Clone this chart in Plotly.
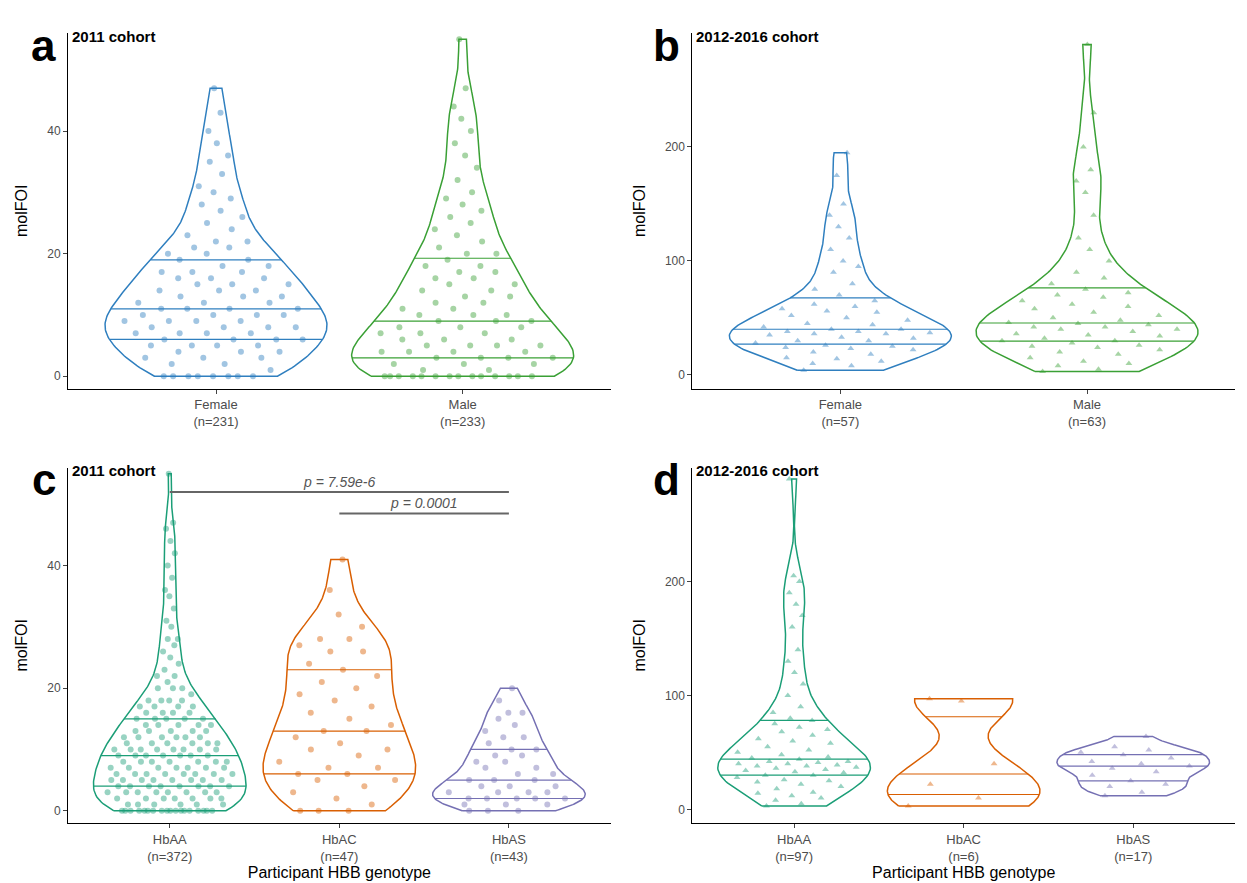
import numpy as np
import plotly.graph_objects as go
from plotly.subplots import make_subplots

# panel a / c (2011 cohort), panel b / d (2012-2016 cohort)
a_female = [0]*8 + [1,2,2,3,3,3,4,4,4,5,5,5,5,6,6,6,6,7,7,7,7,8,8,8,8,9,9,9,9,10,10,10,10,11,11,11,11,12,12,12,13,13,13,14,14,14,15,15,15,16,16,16,17,17,17,18,18,19,19,20,20,21,21,22,22,23,24,25,26,27,28,29,30,31,33,35,36,38,40,43,47]
a_male = [0]*14 + [1,1,2,2,2,3,3,3,3,4,4,4,4,5,5,5,5,6,6,6,7,7,7,8,8,8,9,9,9,10,10,10,11,11,12,12,13,13,14,14,15,15,16,16,17,17,18,18,19,20,20,21,22,23,24,25,26,27,28,29,30,32,34,36,38,40,42,44,47,55]
b_female = [4,8,10,12,14,15,18,20,22,23,24,25,26,28,30,30,32,33,35,36,36,37,38,38,40,40,42,44,45,48,50,52,55,56,58,60,62,65,70,75,80,90,95,100,110,120,130,140,150,175,195]
b_male = [3,5,8,10,12,15,18,20,22,24,25,26,28,30,30,32,34,35,36,38,40,40,42,42,44,45,46,48,50,52,55,58,60,62,65,68,70,72,75,80,85,90,100,110,120,140,160,170,180,200,230,290]
c_hbaa = [0]*18 + [1]*6 + [2]*7 + [3]*8 + [4]*8 + [5]*8 + [6]*8 + [7]*7 + [8]*7 + [9]*7 + [10]*8 + [11]*6 + [12]*6 + [13]*5 + [14]*5 + [15]*5 + [16]*4 + [17]*4 + [18]*4 + [19,20,20,20,21,22,22,23,24,25,26,27,28,28,30,31,33,35,36,38,40,42,44,46,47,55]
c_hbac = [0,0,0,1,2,3,4,5,5,6,6,7,7,8,9,10,10,11,12,13,13,14,15,16,17,18,19,20,21,22,23,24,26,26,27,28,28,30,32,36,41]
c_hbas = [0,0,0,1,1,1,2,2,2,2,2,3,3,3,3,4,4,4,5,5,5,6,6,7,7,8,8,9,9,10,10,11,12,12,13,14,15,16,16,18,20]
d_hbaa = [3,5,8,10,12,14,15,18,20,22,24,25,26,28,30,30,32,33,34,35,36,37,38,38,39,40,40,41,42,42,44,45,46,48,50,52,55,58,60,62,65,68,70,72,75,78,80,85,90,100,110,120,130,140,160,170,180,190,200,205,290]
d_hbac = [3,10,22,40,95,97]
d_hbas = [12,15,20,22,25,30,33,36,38,40,42,45,48,50,52,55,64]

COL = dict(blue="#2f7fbf", green="#3aa035", teal="#1b9e77", orange="#d95f02", purple="#7570b3")

panels = [
    (1, 1, [("Female<br>(n=231)", a_female, COL["blue"]), ("Male<br>(n=233)", a_male, COL["green"])], "circle"),
    (1, 2, [("Female<br>(n=57)", b_female, COL["blue"]), ("Male<br>(n=63)", b_male, COL["green"])], "triangle-up"),
    (2, 1, [("HbAA<br>(n=372)", c_hbaa, COL["teal"]), ("HbAC<br>(n=47)", c_hbac, COL["orange"]), ("HbAS<br>(n=43)", c_hbas, COL["purple"])], "circle"),
    (2, 2, [("HbAA<br>(n=97)", d_hbaa, COL["teal"]), ("HbAC<br>(n=6)", d_hbac, COL["orange"]), ("HbAS<br>(n=17)", d_hbas, COL["purple"])], "triangle-up"),
]

fig = make_subplots(rows=2, cols=2, horizontal_spacing=0.07, vertical_spacing=0.1)


def kde(vals, grid):
    v = np.asarray(vals, float)
    bw = 0.7 * v.std() * len(v) ** -0.2
    d = np.exp(-0.5 * ((grid[:, None] - v[None, :]) / bw) ** 2).sum(1)
    return d / d.max()


for row, col, groups, sym in panels:
    for i, (lab, vals, c) in enumerate(groups):
        x0 = i + 1
        v = np.asarray(vals, float)
        grid = np.linspace(v.min(), v.max(), 200)
        w = kde(v, grid) * 0.45
        fig.add_trace(go.Scatter(x=np.concatenate([x0 - w, (x0 + w)[::-1], [x0 - w[0]]]),
                                 y=np.concatenate([grid, grid[::-1], [grid[0]]]),
                                 mode="lines", line=dict(color=c, width=1.5), hoverinfo="skip"),
                      row=row, col=col)
        for q in np.percentile(v, [25, 50, 75]):
            hw = np.interp(q, grid, w)
            fig.add_trace(go.Scatter(x=[x0 - hw, x0 + hw], y=[q, q], mode="lines",
                                     line=dict(color=c, width=1.2), hoverinfo="skip"), row=row, col=col)
        vs = np.sort(v)
        ws = np.interp(vs, grid, w)
        frac = (np.arange(len(vs)) * 0.618034) % 1
        xs = x0 + (frac * 2 - 1) * np.maximum(ws, 0.04) * 0.85
        fig.add_trace(go.Scatter(x=xs, y=vs, mode="markers",
                                 marker=dict(symbol=sym, size=6, color=c, opacity=0.45, line=dict(width=0))),
                      row=row, col=col)

yr = {1: [-2, 56], 2: [-12, 300]}
for row, col, groups, sym in panels:
    n = len(groups)
    fig.update_xaxes(range=[0.4, n + 0.6], tickvals=list(range(1, n + 1)),
                     ticktext=[g[0] for g in groups], showline=True, linecolor="black",
                     ticks="outside", ticklen=4, showgrid=False, zeroline=False,
                     tickfont=dict(size=13, color="#4d4d4d"), row=row, col=col)
    big = col == 2
    fig.update_yaxes(range=yr[2 if big else 1], tickvals=[0, 100, 200] if big else [0, 20, 40],
                     showline=True, linecolor="black", ticks="outside", ticklen=4, showgrid=False,
                     zeroline=False, tickfont=dict(size=12, color="#4d4d4d"),
                     title=dict(text="molFOI", font=dict(size=16, color="black")), row=row, col=col)
fig.update_xaxes(title=dict(text="Participant HBB genotype", font=dict(size=16, color="black"), standoff=4), row=2, col=1)
fig.update_xaxes(title=dict(text="Participant HBB genotype", font=dict(size=16, color="black"), standoff=4), row=2, col=2)

# significance bars in panel c
fig.add_trace(go.Scatter(x=[1, 3], y=[52, 52], mode="lines", line=dict(color="#666", width=2)), row=2, col=1)
fig.add_trace(go.Scatter(x=[2, 3], y=[48.5, 48.5], mode="lines", line=dict(color="#666", width=2)), row=2, col=1)
fig.add_annotation(x=2, y=52, yshift=10, text="<i>p = 7.59e-6</i>", showarrow=False,
                   font=dict(size=14, color="#555"), xref="x3", yref="y3")
fig.add_annotation(x=2.5, y=48.5, yshift=10, text="<i>p = 0.0001</i>", showarrow=False,
                   font=dict(size=14, color="#555"), xref="x3", yref="y3")

for letter, xr, yrf, title in [("a", "x domain", "y domain", "2011 cohort"),
                               ("b", "x2 domain", "y2 domain", "2012-2016 cohort"),
                               ("c", "x3 domain", "y3 domain", "2011 cohort"),
                               ("d", "x4 domain", "y4 domain", "2012-2016 cohort")]:
    fig.add_annotation(x=0, y=1.02, xref=xr, yref=yrf, text="<b>" + title + "</b>", showarrow=False,
                       xanchor="left", yanchor="top", xshift=2, font=dict(size=15, color="black"))
    fig.add_annotation(x=0, y=1.04, xref=xr, yref=yrf, text="<b>" + letter + "</b>", showarrow=False,
                       xanchor="right", yanchor="top", xshift=-10, font=dict(size=44, color="black"))

fig.update_layout(width=1247, height=883, plot_bgcolor="white", paper_bgcolor="white",
                  showlegend=False, margin=dict(l=60, r=20, t=25, b=55),
                  font=dict(family="Liberation Sans, Arial"))
fig.write_html("out.html")
